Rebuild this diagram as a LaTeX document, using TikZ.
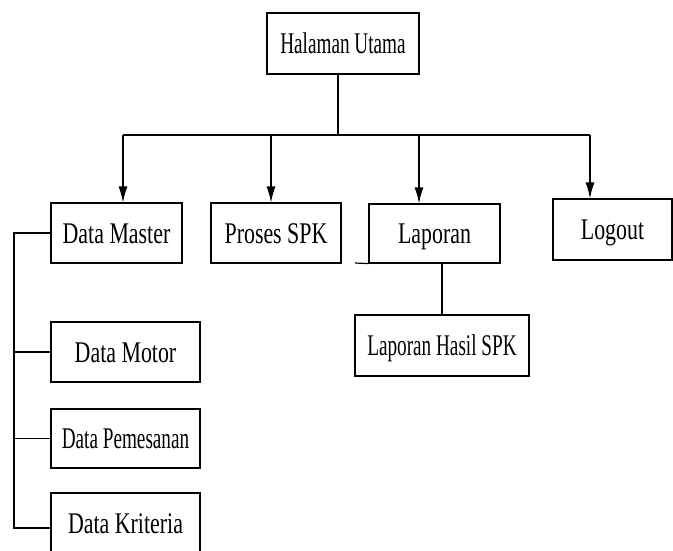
\documentclass[tikz,border=0pt]{standalone}
\usepackage{fontspec}
\usepackage{tikz}
\usetikzlibrary{arrows.meta}
\newfontfamily\boxfont[FakeStretch=0.73]{Liberation Serif}
\newfontfamily\narrowfont[FakeStretch=0.64]{Liberation Serif}
\tikzstyle{menu} = [rectangle, draw, line width=1.2pt, fill=white, inner sep=0pt,
                 text height=20pt, text depth=0pt,
                 font=\boxfont\fontsize{30}{36}\selectfont]
\tikzstyle{narrow} = [font=\narrowfont\fontsize{30}{36}\selectfont]
\tikzstyle{branch} = [line width=1.2pt, draw]
\tikzstyle{arrow} = [branch, -{Latex[length=16pt,width=9pt]}]

\begin{document}
\begin{tikzpicture}[x=1pt, y=-1pt]
\useasboundingbox (0,0) rectangle (673,550);

\node [menu, narrow, minimum width=152, minimum height=61] at (343,43.5) (utama) {Halaman Utama};

\node [menu, minimum width=131, minimum height=60] at (116.5,233) (master) {Data Master};
\node [menu, minimum width=130, minimum height=60] at (276,233) (proses) {Proses SPK};
\node [menu, minimum width=131, minimum height=59] at (434.5,233.5) (laporan) {Laporan};
\node [menu, minimum width=119, minimum height=61] at (612.5,229.5) (logout) {Logout};

\node [menu, narrow, minimum width=174, minimum height=61] at (442,345.5) (hasil) {Laporan Hasil SPK};

\node [menu, minimum width=149, minimum height=60] at (125.5,352) (motor) {Data Motor};
\node [menu, narrow, minimum width=149, minimum height=59] at (125.5,438.5) (pesan) {Data Pemesanan};
\node [menu, minimum width=149, minimum height=60] at (125.5,523) (kriteria) {Data Kriteria};

\coordinate (bus) at (338,135);
\coordinate (b1) at (123,135);
\coordinate (b2) at (271,135);
\coordinate (b3) at (419,135);
\coordinate (b4) at (590,135);
\coordinate (trunk) at (14,528);
\coordinate (lapstub) at (355,263);

    	%menu bar
\path [branch] (bus |- utama.south) -- (bus);
\path [branch] (b1) -- (b4);
\foreach \b/\menu in {b1/master, b2/proses, b3/laporan, b4/logout}
	\draw [arrow] (\b) -- (\b |- \menu.north);

    	%sub menu
\path [branch] (master.west) -| (trunk) -- (trunk -| kriteria.west);
\foreach \menu in {motor, pesan}
	\path [branch] (\menu.west) -- (\menu.west -| trunk);

\path [branch] (hasil.north |- laporan.south) -- (hasil.north);
\path [branch] (lapstub) -- (laporan.south west);

\end{tikzpicture}
\end{document}
